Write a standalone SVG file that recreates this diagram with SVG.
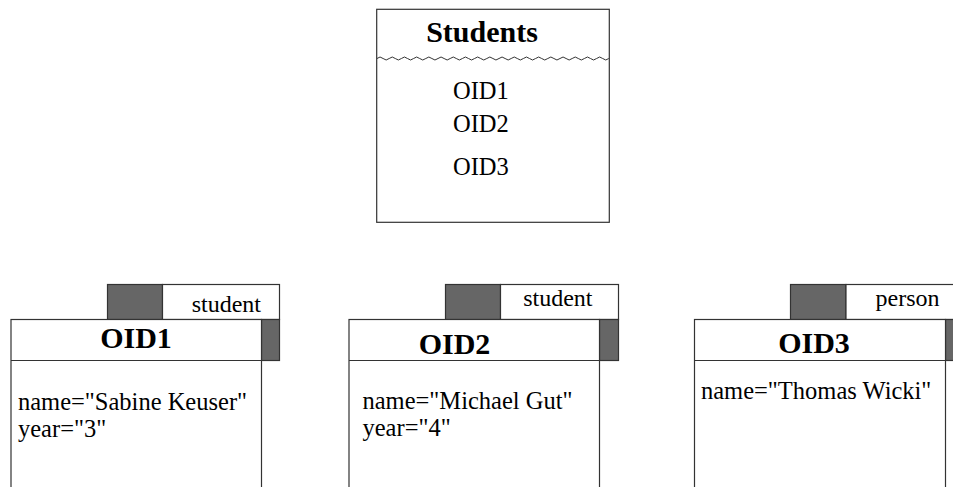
<svg xmlns="http://www.w3.org/2000/svg" width="953" height="487" viewBox="0 0 953 487">
  <style>
    .frame { fill: #ffffff; stroke: #333333; stroke-width: 1.2; }
    .dark { fill: #666666; stroke: #333333; stroke-width: 1.2; }
    .line { fill: none; stroke: #333333; stroke-width: 1.2; }
    .wave { fill: none; stroke: #333333; stroke-width: 1; }
    .title { font-family: "Liberation Serif", serif; font-weight: bold; font-size: 30px; fill: #000000; text-anchor: middle; }
    .txt { font-family: "Liberation Serif", serif; font-size: 24.5px; fill: #000000; }
    .tag { font-family: "Liberation Serif", serif; font-size: 24px; fill: #000000; text-anchor: end; }
  </style>
  <rect width="953" height="487" fill="#ffffff"/>

  <!-- Set of object identifiers -->
  <g id="students">
    <rect class="frame" x="376.7" y="9.3" width="232.6" height="213"/>
    <text class="title" x="482" y="42">Students</text>
    <path class="wave" d="M377,58.5 q3.05,-3 6.1,0 t6.1,0 t6.1,0 t6.1,0 t6.1,0 t6.1,0 t6.1,0 t6.1,0 t6.1,0 t6.1,0 t6.1,0 t6.1,0 t6.1,0 t6.1,0 t6.1,0 t6.1,0 t6.1,0 t6.1,0 t6.1,0 t6.1,0 t6.1,0 t6.1,0 t6.1,0 t6.1,0 t6.1,0 t6.1,0 t6.1,0 t6.1,0 t6.1,0 t6.1,0 t6.1,0 t6.1,0 t6.1,0 t6.1,0 t6.1,0 t6.1,0 t6.1,0 t6.1,0"/>
    <text class="txt" x="453" y="99">OID1</text>
    <text class="txt" x="453" y="132">OID2</text>
    <text class="txt" x="453" y="175">OID3</text>
  </g>

  <!-- Object OID1 -->
  <g id="oid1">
    <rect class="dark" x="107.5" y="284.5" width="55" height="35"/>
    <rect class="frame" x="162.5" y="284.5" width="117" height="35"/>
    <text class="tag" x="261" y="311.5">student</text>
    <rect class="dark" x="261.5" y="319.5" width="18" height="41"/>
    <rect class="frame" x="11" y="319.5" width="250.5" height="190"/>
    <line class="line" x1="11" y1="360.5" x2="261.5" y2="360.5"/>
    <text class="title" x="136" y="347.5">OID1</text>
    <text class="txt" x="18" y="410">name="Sabine Keuser"</text>
    <text class="txt" x="18" y="436.5">year="3"</text>
  </g>

  <!-- Object OID2 -->
  <g id="oid2">
    <rect class="dark" x="445.5" y="284.5" width="55" height="35"/>
    <rect class="frame" x="500.5" y="284.5" width="118" height="35"/>
    <text class="tag" x="592.5" y="306">student</text>
    <rect class="dark" x="599.5" y="319.5" width="19" height="41"/>
    <rect class="frame" x="349" y="319.5" width="250.5" height="190"/>
    <line class="line" x1="349" y1="360.5" x2="599.5" y2="360.5"/>
    <text class="title" x="454.5" y="354">OID2</text>
    <text class="txt" x="362.5" y="409">name="Michael Gut"</text>
    <text class="txt" x="362.5" y="436">year="4"</text>
  </g>

  <!-- Object OID3 -->
  <g id="oid3">
    <rect class="dark" x="790.5" y="284.5" width="55.5" height="35"/>
    <rect class="frame" x="846" y="284.5" width="124" height="35"/>
    <text class="tag" x="939.5" y="306">person</text>
    <rect class="dark" x="945.5" y="319.5" width="24" height="41"/>
    <rect class="frame" x="694.5" y="319.5" width="251" height="190"/>
    <line class="line" x1="694.5" y1="360.5" x2="945.5" y2="360.5"/>
    <text class="title" x="814" y="352.5">OID3</text>
    <text class="txt" x="701" y="398.5">name="Thomas Wicki"</text>
  </g>

  <g id="connectors"/>
</svg>
